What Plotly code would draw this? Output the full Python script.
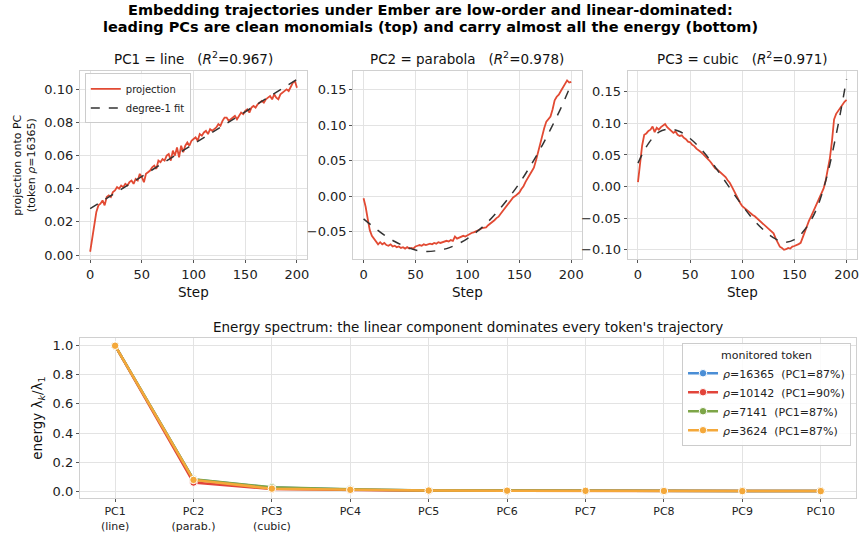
import plotly.graph_objects as go

# ---------------- data ----------------
steps = list(range(0, 201, 2))

pc1_proj = [0.002, 0.010, 0.018, 0.026, 0.030, 0.031, 0.033, 0.030, 0.035, 0.036,
            0.035, 0.038, 0.039, 0.041, 0.040, 0.042, 0.041, 0.043, 0.042, 0.044,
            0.045, 0.043, 0.046, 0.045, 0.049, 0.047, 0.044, 0.049, 0.050, 0.051,
            0.053, 0.054, 0.052, 0.057, 0.056, 0.058, 0.057, 0.060, 0.061, 0.057,
            0.063, 0.060, 0.065, 0.059, 0.066, 0.062, 0.066, 0.068, 0.066, 0.069,
            0.070, 0.071, 0.069, 0.073, 0.072, 0.074, 0.075, 0.073, 0.076, 0.075,
            0.076, 0.077, 0.079, 0.078, 0.081, 0.083, 0.083, 0.081, 0.082, 0.083,
            0.084, 0.082, 0.084, 0.086, 0.085, 0.087, 0.088, 0.086, 0.089, 0.090,
            0.089, 0.091, 0.092, 0.093, 0.092, 0.094, 0.095, 0.096, 0.094, 0.097,
            0.095, 0.094, 0.097, 0.098, 0.099, 0.100, 0.099, 0.102, 0.104, 0.105,
            0.101]
pc1_fit_steps = [0, 200]
pc1_fit = [0.028, 0.106]

pc2_proj = [-0.003, -0.015, -0.032, -0.048, -0.056, -0.060, -0.064, -0.068, -0.065, -0.068,
            -0.066, -0.069, -0.070, -0.068, -0.071, -0.070, -0.072, -0.071, -0.073, -0.072,
            -0.074, -0.072, -0.074, -0.073, -0.074, -0.071, -0.070, -0.069, -0.070, -0.068,
            -0.069, -0.068, -0.067, -0.068, -0.066, -0.067, -0.065, -0.066, -0.065, -0.065,
            -0.063, -0.064, -0.062, -0.063, -0.057, -0.060, -0.059, -0.058, -0.056, -0.057,
            -0.055, -0.054, -0.052, -0.051, -0.050, -0.048, -0.047, -0.045, -0.044, -0.044,
            -0.041, -0.039, -0.037, -0.034, -0.031, -0.029, -0.025, -0.021, -0.017, -0.013,
            -0.010, -0.006, -0.002, 0.000, 0.003, 0.005, 0.010, 0.014, 0.020, 0.026,
            0.030, 0.035, 0.040, 0.050, 0.062, 0.070, 0.082, 0.096, 0.105, 0.108,
            0.112, 0.122, 0.135, 0.140, 0.143, 0.148, 0.153, 0.158, 0.163, 0.160,
            0.161]
fit_steps = list(range(0, 201, 10))
pc2_fit = [-0.032, -0.044, -0.055, -0.064, -0.071, -0.076, -0.078, -0.077, -0.074, -0.068,
           -0.060, -0.049, -0.036, -0.020, -0.002, 0.018, 0.041, 0.066, 0.094, 0.124, 0.158]

pc3_proj = [0.007, 0.040, 0.065, 0.082, 0.084, 0.088, 0.090, 0.095, 0.086, 0.093,
            0.090, 0.094, 0.097, 0.099, 0.094, 0.091, 0.087, 0.085, 0.087, 0.082,
            0.080, 0.081, 0.077, 0.075, 0.071, 0.070, 0.066, 0.064, 0.060, 0.058,
            0.055, 0.052, 0.049, 0.045, 0.042, 0.038, 0.034, 0.029, 0.027, 0.024,
            0.021, 0.018, 0.015, 0.010, 0.006, 0.000, -0.007, -0.014, -0.020, -0.026,
            -0.031, -0.034, -0.037, -0.040, -0.042, -0.045, -0.047, -0.050, -0.053, -0.056,
            -0.059, -0.061, -0.064, -0.067, -0.070, -0.074, -0.082, -0.090, -0.095, -0.097,
            -0.100, -0.099, -0.097, -0.098, -0.095, -0.094, -0.093, -0.091, -0.089, -0.080,
            -0.070, -0.060, -0.054, -0.047, -0.040, -0.033, -0.026, -0.019, -0.010, -0.003,
            0.010, 0.025, 0.045, 0.072, 0.106, 0.115, 0.120, 0.126, 0.130, 0.134,
            0.137]
pc3_fit = [0.037, 0.068, 0.086, 0.091, 0.087, 0.076, 0.060, 0.040, 0.017, -0.007,
           -0.030, -0.051, -0.068, -0.081, -0.088, -0.084, -0.068, -0.040, 0.009, 0.082, 0.170]

pc_labels = ["PC1<br>(line)", "PC2<br>(parab.)", "PC3<br>(cubic)", "PC4", "PC5",
             "PC6", "PC7", "PC8", "PC9", "PC10"]
tokens = ["16365", "10142", "7141", "3624"]
token_pc1 = ["87%", "90%", "87%", "87%"]
energy_16365 = [1.0, 0.080, 0.025, 0.012, 0.006, 0.004, 0.003, 0.002, 0.002, 0.001]
energy_10142 = [1.0, 0.060, 0.015, 0.007, 0.004, 0.003, 0.002, 0.001, 0.001, 0.001]
energy_7141 = [1.0, 0.082, 0.027, 0.013, 0.006, 0.004, 0.003, 0.002, 0.002, 0.001]
energy_3624 = [1.0, 0.078, 0.018, 0.010, 0.005, 0.004, 0.003, 0.002, 0.001, 0.001]
energies = [energy_16365, energy_10142, energy_7141, energy_3624]

panel_titles = ["PC1 = line   (<i>R</i><sup>2</sup>=0.967)",
                "PC2 = parabola   (<i>R</i><sup>2</sup>=0.978)",
                "PC3 = cubic   (<i>R</i><sup>2</sup>=0.971)"]

# ---------------- styling ----------------
W, H = 862, 535
FONT = "DejaVu Sans"
RED = "#E24A33"
token_colors = ["#4A8ED6", "#E2443A", "#7DA547", "#F4A83A"]
GRID = "#e3e3e3"
SPINE = "#d0d0d0"

def px(x):
    return x / W

def py(y):
    return 1 - y / H

fig = go.Figure()

panels = [
    dict(xd=(80, 308), yr=(-0.0024, 0.1108), dt=0.02, fmt=".2f",
         proj=pc1_proj, fx=pc1_fit_steps, fy=pc1_fit, fitname="degree-1 fit"),
    dict(xd=(354, 583), yr=(-0.0887, 0.1756), dt=0.05, fmt=".2f",
         proj=pc2_proj, fx=fit_steps, fy=pc2_fit, fitname="degree-2 fit"),
    dict(xd=(629, 859), yr=(-0.1146, 0.182), dt=0.05, fmt=".2f",
         proj=pc3_proj, fx=fit_steps, fy=pc3_fit, fitname="degree-3 fit"),
]

top_y = (72, 261)
annotations = []
for i, p in enumerate(panels):
    sfx = "" if i == 0 else str(i + 1)
    xa, ya = "x" + sfx, "y" + sfx
    fig.add_trace(go.Scatter(x=steps, y=p["proj"], mode="lines", name="projection",
                             line=dict(color=RED, width=1.8), xaxis=xa, yaxis=ya,
                             showlegend=(i == 0), legend="legend2"))
    fig.add_trace(go.Scatter(x=p["fx"], y=p["fy"], mode="lines", name=p["fitname"],
                             line=dict(color="#333333", width=1.5, dash="dash",
                                       shape="spline", smoothing=1.0),
                             xaxis=xa, yaxis=ya, showlegend=(i == 0), legend="legend2"))
    axcommon = dict(showgrid=True, gridcolor=GRID, gridwidth=1, zeroline=False,
                    showline=True, mirror=True, linecolor=SPINE, linewidth=1,
                    ticks="outside", ticklen=3, tickcolor="#555555",
                    tickfont=dict(family=FONT, size=13, color="#222"))
    fig.update_layout(**{
        "xaxis" + sfx: dict(domain=[px(p["xd"][0]), px(p["xd"][1])], range=[-10, 210],
                            tickvals=[0, 50, 100, 150, 200], anchor=ya, **axcommon),
        "yaxis" + sfx: dict(domain=[py(top_y[1]), py(top_y[0])], range=list(p["yr"]),
                            dtick=p["dt"], tickformat=p["fmt"], anchor=xa, **axcommon),
    })
    cx = (p["xd"][0] + p["xd"][1]) / 2
    annotations.append(dict(text=panel_titles[i], x=px(cx), y=py(58), xref="paper", yref="paper",
                            showarrow=False, font=dict(family=FONT, size=13.5, color="#111"),
                            xanchor="center", yanchor="middle"))
    annotations.append(dict(text="Step", x=px(cx), y=py(294), xref="paper", yref="paper",
                            showarrow=False, font=dict(family=FONT, size=13.5, color="#111"),
                            xanchor="center", yanchor="middle"))

# bottom panel
for k, (tok, pct, en) in enumerate(zip(tokens, token_pc1, energies)):
    fig.add_trace(go.Scatter(
        x=list(range(len(pc_labels))), y=en, mode="lines+markers",
        name="<i>ρ</i>=" + tok + "\u00a0\u00a0(PC1=" + pct + ")",
        line=dict(color=token_colors[k], width=2.5),
        marker=dict(color=token_colors[k], size=7.5, line=dict(color="white", width=1)),
        xaxis="x4", yaxis="y4", legend="legend"))

fig.update_layout(
    xaxis4=dict(domain=[px(80), px(858)], range=[-0.45, 9.45], anchor="y4",
                tickvals=list(range(len(pc_labels))), ticktext=pc_labels,
                showgrid=True, gridcolor=GRID, zeroline=False, showline=True, mirror=True,
                linecolor=SPINE, ticks="outside", ticklen=3, tickcolor="#555555",
                tickfont=dict(family=FONT, size=11, color="#222")),
    yaxis4=dict(domain=[py(502), py(340.7)], range=[-0.048, 1.052], anchor="x4",
                dtick=0.2, tickformat=".1f",
                showgrid=True, gridcolor=GRID, zeroline=False, showline=True, mirror=True,
                linecolor=SPINE, ticks="outside", ticklen=3, tickcolor="#555555",
                tickfont=dict(family=FONT, size=13, color="#222")),
)

annotations += [
    dict(text="<b>Embedding trajectories under Ember are low-order and linear-dominated:</b>",
         x=0.5, y=py(10.5), xref="paper", yref="paper", showarrow=False,
         font=dict(family=FONT, size=14.5, color="#000"), xanchor="center", yanchor="middle"),
    dict(text="<b>leading PCs are clean monomials (top) and carry almost all the energy (bottom)</b>",
         x=0.5, y=py(27.5), xref="paper", yref="paper", showarrow=False,
         font=dict(family=FONT, size=14.5, color="#000"), xanchor="center", yanchor="middle"),
    dict(text="Energy spectrum: the linear component dominates every token's trajectory",
         x=px(469), y=py(329), xref="paper", yref="paper", showarrow=False,
         font=dict(family=FONT, size=13.5, color="#111"), xanchor="center", yanchor="middle"),
    dict(text="projection onto PC<br>(token <i>ρ</i>=16365)", x=px(25), y=py(166),
         xref="paper", yref="paper", showarrow=False, textangle=-90,
         font=dict(family=FONT, size=11, color="#111"), xanchor="center", yanchor="middle"),
    dict(text="energy λ<sub><i>k</i></sub>/λ<sub>1</sub>", x=px(38), y=py(421),
         xref="paper", yref="paper", showarrow=False, textangle=-90,
         font=dict(family=FONT, size=13.5, color="#111"), xanchor="center", yanchor="middle"),
]

fig.update_layout(
    width=W, height=H, margin=dict(l=0, r=0, t=0, b=0),
    paper_bgcolor="white", plot_bgcolor="white",
    font=dict(family=FONT, color="#222"),
    annotations=annotations,
    legend2=dict(x=px(85), y=py(74), xanchor="left", yanchor="top",
                 bgcolor="rgba(255,255,255,0.85)", bordercolor="#cccccc", borderwidth=1,
                 font=dict(family=FONT, size=10, color="#222"), itemwidth=30,
                 tracegroupgap=0),
    legend=dict(x=px(853), y=py(346), xanchor="right", yanchor="top",
                bgcolor="rgba(255,255,255,0.85)", bordercolor="#cccccc", borderwidth=1,
                font=dict(family=FONT, size=11, color="#222"), itemwidth=30,
                title=dict(text="monitored token", side="top center",
                           font=dict(family=FONT, size=11, color="#222"))),
)

fig.write_html("out.html")
